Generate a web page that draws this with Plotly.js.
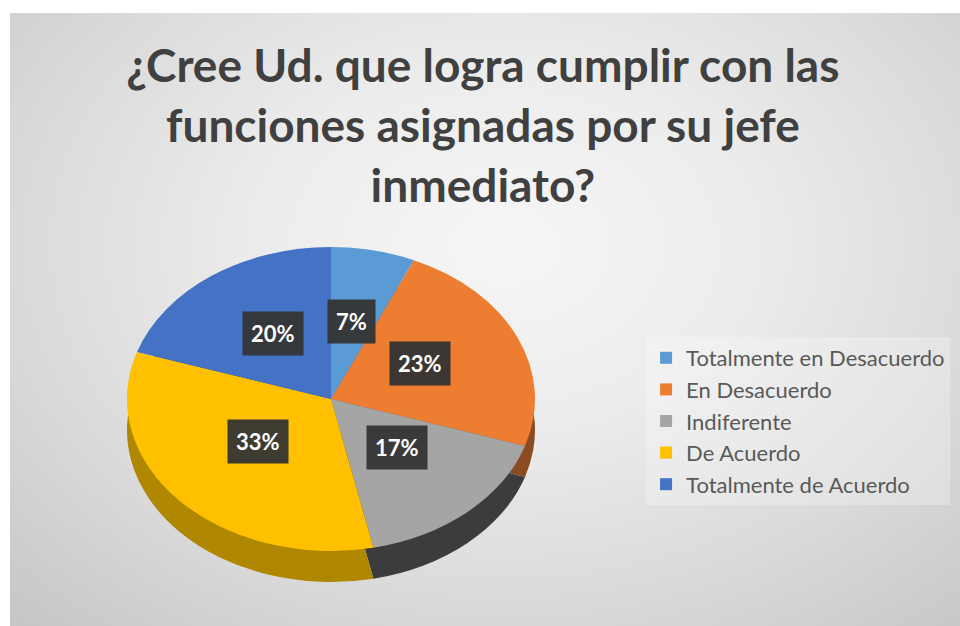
<!DOCTYPE html>
<html>
<head>
<meta charset="utf-8">
<script src="https://cdn.plot.ly/plotly-3.0.1.min.js"></script>
<style>
  html, body { margin: 0; padding: 0; background: #ffffff; }
  #wrap { position: relative; width: 960px; height: 626px; background: #ffffff; overflow: hidden; }
  #bg { position: absolute; left: 10px; top: 13px; width: 950px; height: 613px;
        background: radial-gradient(ellipse 75% 85% at 52% 38%, #f6f6f6 0%, #ececec 35%, #d9d9d9 70%, #c6c6c6 100%); }
  #chart { position: absolute; left: 0; top: 0; width: 960px; height: 626px; }
</style>
</head>
<body>
<div id="wrap"><div id="bg"></div><div id="chart"></div></div>
<script>
// ---- data ----
const categories = ['Totalmente en Desacuerdo', 'En Desacuerdo', 'Indiferente', 'De Acuerdo', 'Totalmente de Acuerdo'];
const counts = [2, 7, 5, 10, 6];
const sliceColors = ['#5b9bd5', '#ed7d31', '#a5a5a5', '#ffc000', '#4472c4'];
const wallColors = ['#3e6e9a', '#8a4a22', '#3c3c3c', '#b08700', '#2f5597'];
const titleText = '¿Cree Ud. que logra cumplir con las<br>funciones asignadas por su jefe<br>inmediato?';

// ---- geometry (layout only) ----
const W = 960, H = 626;
const cx = 331, cy = 399;        // centre of the top ellipse (px)
const rx = 204;                   // horizontal radius (px)
const tilt = 0.745;               // vertical squash of the pie
const depth = 31;                 // thickness of the side wall (px)
const ycPre = 226;                // pre-squash centre of the top pie (px from top)
const ycWall = ycPre + depth / tilt;

function domainFor(yc) {
  return { x: [(cx - rx) / W, (cx + rx) / W], y: [(H - yc - rx) / H, (H - yc + rx) / H] };
}

const total = counts.reduce((a, b) => a + b, 0);

const wallTrace = {
  type: 'pie', labels: categories, values: counts, sort: false, direction: 'clockwise', rotation: 0,
  marker: { colors: wallColors, line: { width: 0 } },
  textinfo: 'none', hoverinfo: 'skip', showlegend: false,
  domain: domainFor(ycWall)
};
const topTrace = {
  type: 'pie', labels: categories, values: counts, sort: false, direction: 'clockwise', rotation: 0,
  marker: { colors: sliceColors, line: { width: 0 } },
  textinfo: 'none', hoverinfo: 'label+percent', showlegend: true,
  domain: domainFor(ycPre)
};

// percentage labels positioned from the data (mid-angle of each slice)
const annotations = [];
let cum = 0;
const k = 0.48, ry = rx * tilt;
counts.forEach((v, i) => {
  const theta = 2 * Math.PI * (cum + v / 2) / total;
  cum += v;
  const px = cx + k * rx * Math.sin(theta);
  const py = (cy - 6) - k * ry * Math.cos(theta);
  annotations.push({
    xref: 'paper', yref: 'paper', x: px / W, y: 1 - py / H, xanchor: 'center', yanchor: 'middle',
    text: Math.round(100 * v / total) + '%', showarrow: false,
    font: { family: 'Lato, "Open Sans", sans-serif', size: 22, color: '#ffffff', weight: 700 },
    bgcolor: 'rgba(52,52,52,0.95)', borderpad: 8
  });
});

const layout = {
  width: W, height: H,
  margin: { l: 0, r: 0, t: 0, b: 0 },
  paper_bgcolor: 'rgba(0,0,0,0)', plot_bgcolor: 'rgba(0,0,0,0)',
  title: {
    text: titleText, x: 0.503, xanchor: 'center', y: 1 - 82 / H, yanchor: 'top',
    font: { family: 'Lato, "Open Sans", sans-serif', size: 46, color: '#404040', weight: 700 }
  },
  legend: {
    x: 0.673, xanchor: 'left', y: 1 - 421 / H, yanchor: 'middle',
    bgcolor: 'rgba(255,255,255,0.25)', borderwidth: 0,
    font: { family: 'Lato, "Open Sans", sans-serif', size: 22, color: '#595959' },
    traceorder: 'normal'
  },
  annotations: annotations
};

const gd = document.getElementById('chart');
Plotly.newPlot(gd, [wallTrace, topTrace], layout, { displayModeBar: false, staticPlot: true }).then(() => {
  const pl = gd.querySelector('.pielayer');
  if (pl) pl.setAttribute('transform', 'translate(0,' + (cy - tilt * ycPre) + ') scale(1,' + tilt + ')');
});
</script>
</body>
</html>
